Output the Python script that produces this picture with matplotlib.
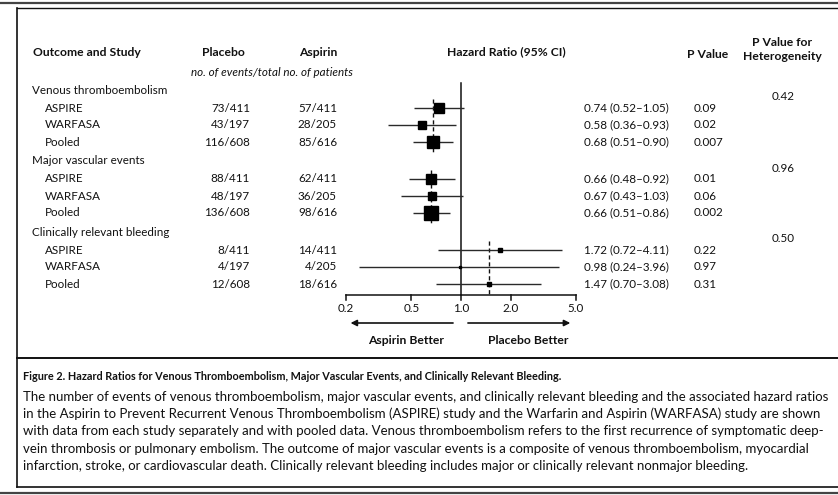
import matplotlib
matplotlib.use('Agg')

import numpy as np
import matplotlib.pyplot as plt

plt.rcParams['font.family'] = ['Lato', 'DejaVu Sans']

# -------------------
# Data
# -------------------
outcomes = ['Venous thromboembolism', 'Major vascular events', 'Clinically relevant bleeding']
studies = ['ASPIRE', 'WARFASA', 'Pooled']
placebo = [['73/411', '43/197', '116/608'],
           ['88/411', '48/197', '136/608'],
           ['8/411', '4/197', '12/608']]
aspirin = [['57/411', '28/205', '85/616'],
           ['62/411', '36/205', '98/616'],
           ['14/411', '4/205', '18/616']]
hr = [[0.74, 0.58, 0.68], [0.66, 0.67, 0.66], [1.72, 0.98, 1.47]]
ci_low = [[0.52, 0.36, 0.51], [0.48, 0.43, 0.51], [0.72, 0.24, 0.70]]
ci_high = [[1.05, 0.93, 0.90], [0.92, 1.03, 0.86], [4.11, 3.96, 3.08]]
p_values = [['0.09', '0.02', '0.007'], ['0.01', '0.06', '0.002'], ['0.22', '0.97', '0.31']]
p_het = ['0.42', '0.96', '0.50']
xticks = [0.2, 0.5, 1.0, 2.0, 5.0]

caption_title = ('Figure 2. Hazard Ratios for Venous Thromboembolism, Major Vascular Events, '
                 'and Clinically Relevant Bleeding.')
caption_lines = [
    'The number of events of venous thromboembolism, major vascular events, and clinically relevant bleeding and the associated hazard ratios',
    'in the Aspirin to Prevent Recurrent Venous Thromboembolism (ASPIRE) study and the Warfarin and Aspirin (WARFASA) study are shown',
    'with data from each study separately and with pooled data. Venous thromboembolism refers to the first recurrence of symptomatic deep-',
    'vein thrombosis or pulmonary embolism. The outcome of major vascular events is a composite of venous thromboembolism, myocardial',
    'infarction, stroke, or cardiovascular death. Clinically relevant bleeding includes major or clinically relevant nonmajor bleeding.',
]

W, H = 838, 495
ink = '#111111'
fs = 8.4

fig = plt.figure(figsize=(W / 100, H / 100), dpi=100)

# page-level axes in pixel coordinates (text + frame)
page = fig.add_axes([0, 0, 1, 1])
page.set_xlim(0, W)
page.set_ylim(H, 0)
page.axis('off')

# forest axes: log x scale, y in pixel rows
ax = fig.add_axes([346 / W, 0, 230 / W, 1])
ax.set_xscale('log')
ax.set_xlim(0.2, 5.0)
ax.set_ylim(H, 0)
ax.axis('off')

def txt(x, y, s, **kw):
    kw.setdefault('fontsize', fs)
    kw.setdefault('color', ink)
    kw.setdefault('va', 'center')
    page.text(x, y, s, **kw)

# frame
page.plot([17, 17], [8, 487], color=ink, lw=1.2)
page.plot([17, W], [8, 8], color=ink, lw=1.0)
page.plot([0, W], [3, 3], color='#444444', lw=1.6)
page.plot([17, W], [358, 358], color=ink, lw=1.4)
page.plot([17, W], [487, 487], color=ink, lw=1.2)
page.plot([0, W], [493, 493], color='#444444', lw=1.6)

# column headers
hfs = 8.7
txt(33, 52, 'Outcome and Study', fontweight='bold', fontsize=hfs)
txt(223, 52, 'Placebo', fontweight='bold', ha='center', fontsize=hfs)
txt(318, 52, 'Aspirin', fontweight='bold', ha='center', fontsize=hfs)
txt(272, 72, 'no. of events/total no. of patients', style='italic', ha='center')
txt(506, 52, 'Hazard Ratio (95% CI)', fontweight='bold', ha='center', fontsize=hfs)
txt(708, 54, 'P Value', fontweight='bold', ha='center', fontsize=hfs)
txt(782, 42, 'P Value for', fontweight='bold', ha='center', fontsize=hfs)
txt(782, 57, 'Heterogeneity', fontweight='bold', ha='center', fontsize=hfs)

axis_y = 295
group_y = [90, 161, 232]

for g, outcome in enumerate(outcomes):
    gy = group_y[g]
    txt(32, gy, outcome)
    txt(783, gy + 7, p_het[g], ha='center')
    rows = [gy + 18, gy + 35, gy + 52]
    for i, study in enumerate(studies):
        y = rows[i]
        txt(45, y, study)
        txt(250, y, placebo[g][i], ha='right')
        txt(337, y, aspirin[g][i], ha='right')
        txt(584, y, f'{hr[g][i]:.2f} ({ci_low[g][i]:.2f}\u2013{ci_high[g][i]:.2f})')
        txt(694, y, p_values[g][i])
        # box size scales with total number of events
        n_events = int(placebo[g][i].split('/')[0]) + int(aspirin[g][i].split('/')[0])
        size_px = 0.87 * np.sqrt(n_events)
        ax.plot([ci_low[g][i], ci_high[g][i]], [y, y], color='#2a2a2a', lw=1.0,
                solid_capstyle='butt', zorder=2)
        ax.plot(hr[g][i], y, marker='s', ms=size_px * 0.72, color='black',
                mec='black', zorder=3)
    # dashed reference at pooled estimate
    ax.plot([hr[g][2], hr[g][2]], [rows[0] - 9, min(rows[2] + 10, axis_y)],
            color=ink, lw=1.0, ls=(0, (3, 2)), zorder=1)

# null line
ax.plot([1, 1], [83, axis_y], color=ink, lw=1.1, zorder=1)

# x axis with downward ticks
ax.plot([xticks[0], xticks[-1]], [axis_y, axis_y], color=ink, lw=1.1, clip_on=False)
for t in xticks:
    ax.plot([t, t], [axis_y, axis_y + 5], color=ink, lw=1.1, clip_on=False)
    ax.text(t, axis_y + 13, f'{t:.1f}', ha='center', va='center', fontsize=fs, color=ink)

# direction arrows
ax.annotate('', xy=(0.205, 323), xytext=(0.93, 323),
            arrowprops=dict(arrowstyle='-|>', color=ink, lw=1.2, mutation_scale=9))
ax.annotate('', xy=(4.8, 323), xytext=(1.06, 323),
            arrowprops=dict(arrowstyle='-|>', color=ink, lw=1.2, mutation_scale=9))
txt(406, 341, 'Aspirin Better', fontweight='bold', ha='center', fontsize=hfs)
txt(528, 341, 'Placebo Better', fontweight='bold', ha='center', fontsize=hfs)

# caption
txt(23, 376, caption_title, fontweight='bold', fontsize=7.8)
for k, line in enumerate(caption_lines):
    txt(23, 397 + 17.2 * k, line, fontsize=9.5)

fig.savefig('out.png', dpi=100)
